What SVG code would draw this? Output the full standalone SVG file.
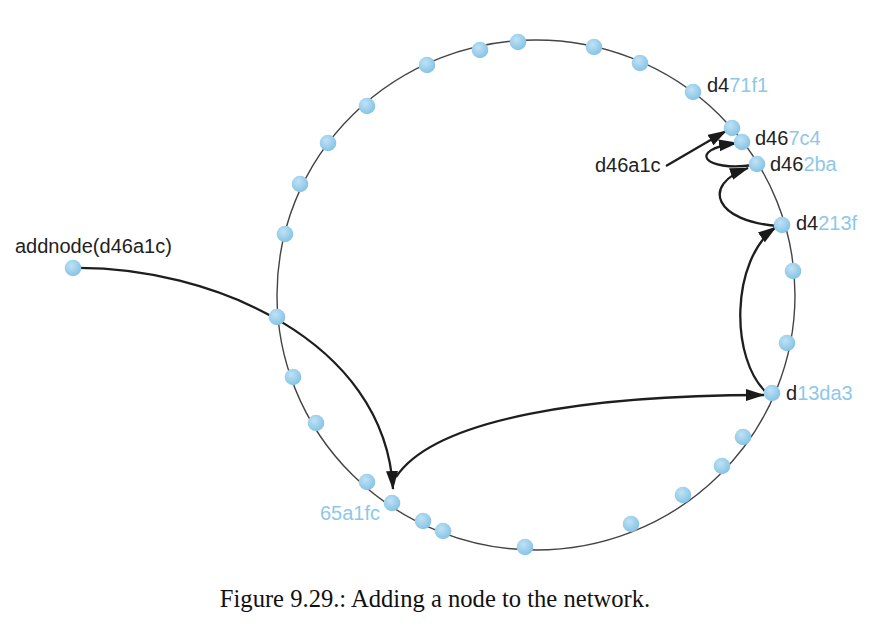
<svg xmlns="http://www.w3.org/2000/svg" width="881" height="630" viewBox="0 0 881 630">
<style>
.ring{fill:none;stroke:#444;stroke-width:1.4}
.arr{fill:none;stroke:#1e1e1e;stroke-width:2.3}
.nd{fill:url(#g);}
.lb{font-family:"Liberation Sans",Arial,sans-serif;font-size:20px;fill:#222}
.bl{fill:#8ec8e8}
.cap{font-family:"Liberation Serif","Times New Roman",serif;font-size:24.6px;fill:#111}
</style>
<defs>
<radialGradient id="g" cx="0.4" cy="0.35" r="0.65">
<stop offset="0" stop-color="#bfe2f5"/>
<stop offset="1" stop-color="#86c3e5"/>
</radialGradient>
<marker id="ah" markerUnits="userSpaceOnUse" markerWidth="20" markerHeight="14" refX="18" refY="6" orient="auto">
<path d="M0,0 L19,6 L0,12 Z" fill="#1a1a1a"/>
</marker>
</defs>
<ellipse class="ring" cx="536" cy="295" rx="259" ry="255"/>
<g id="connectors">
<path class="arr" d="M73,268 C210,266 385,340 393,489" marker-end="url(#ah)"/>
<path class="arr" d="M396,477 C435,418 590,395 764,395" marker-end="url(#ah)"/>
<path class="arr" d="M767,393 C730,360 730,260 776,227" marker-end="url(#ah)"/>
<path class="arr" d="M779,226 C715,222 700,185 748,168" marker-end="url(#ah)"/>
<path class="arr" d="M753,165 C705,172 685,150 737,143" marker-end="url(#ah)"/>
<path class="arr" d="M666,166 L726,131" marker-end="url(#ah)"/>
</g>
<g id="nodes">
<circle class="nd" cx="518" cy="42" r="8.3"/>
<circle class="nd" cx="480" cy="50" r="8.3"/>
<circle class="nd" cx="427" cy="65" r="8.3"/>
<circle class="nd" cx="367" cy="106" r="8.3"/>
<circle class="nd" cx="328" cy="143" r="8.3"/>
<circle class="nd" cx="300" cy="184" r="8.3"/>
<circle class="nd" cx="285" cy="234" r="8.3"/>
<circle class="nd" cx="277" cy="317" r="8.3"/>
<circle class="nd" cx="293" cy="377" r="8.3"/>
<circle class="nd" cx="316" cy="423" r="8.3"/>
<circle class="nd" cx="367" cy="482" r="8.3"/>
<g id="n65a1fc"><circle class="nd" cx="392" cy="503" r="8.3"/><text class="lb bl" x="320" y="520">65a1fc</text></g>
<circle class="nd" cx="423" cy="521" r="8.3"/>
<circle class="nd" cx="443" cy="531" r="8.3"/>
<circle class="nd" cx="525" cy="547" r="8.3"/>
<circle class="nd" cx="631" cy="524" r="8.3"/>
<circle class="nd" cx="683" cy="495" r="8.3"/>
<circle class="nd" cx="722" cy="466" r="8.3"/>
<circle class="nd" cx="743" cy="437" r="8.3"/>
<g id="nd13da3"><circle class="nd" cx="772" cy="393" r="8.3"/><text class="lb" x="786" y="400">d<tspan class="bl">13da3</tspan></text></g>
<circle class="nd" cx="787" cy="343" r="8.3"/>
<circle class="nd" cx="793" cy="271" r="8.3"/>
<g id="nd4213f"><circle class="nd" cx="782" cy="225" r="8.3"/><text class="lb" x="796" y="230">d4<tspan class="bl">213f</tspan></text></g>
<g id="nd462ba"><circle class="nd" cx="757" cy="164" r="8.3"/><text class="lb" x="770" y="171">d46<tspan class="bl">2ba</tspan></text></g>
<g id="nd467c4"><circle class="nd" cx="742" cy="142" r="8.3"/><text class="lb" x="755" y="145">d46<tspan class="bl">7c4</tspan></text></g>
<circle class="nd" cx="732" cy="128" r="8.3"/>
<g id="nd471f1"><circle class="nd" cx="693" cy="92" r="8.3"/><text class="lb" x="707" y="92">d4<tspan class="bl">71f1</tspan></text></g>
<circle class="nd" cx="640" cy="63" r="8.3"/>
<circle class="nd" cx="594" cy="47" r="8.3"/>
<g id="addnode"><circle class="nd" cx="73" cy="268" r="8.3"/><text class="lb" x="15" y="253">addnode(d46a1c)</text></g>
<g id="d46a1c"><text class="lb" x="595" y="172">d46a1c</text></g>
</g>
<text class="cap" x="435" y="607" text-anchor="middle">Figure 9.29.: Adding a node to the network.</text>
</svg>
